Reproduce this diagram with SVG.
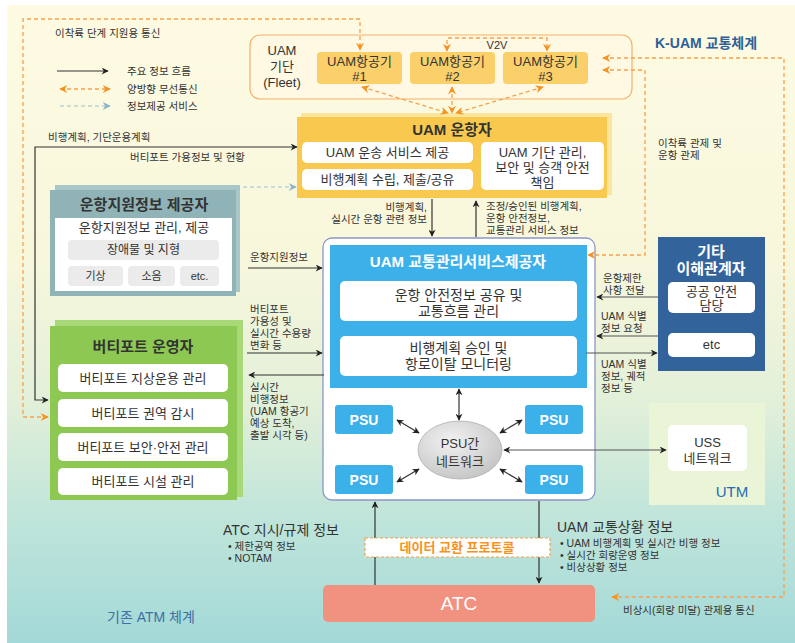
<svg xmlns="http://www.w3.org/2000/svg" width="795" height="643" viewBox="0 0 795 643">
<defs>
<linearGradient id="bg" x1="0" y1="0" x2="0" y2="1">
<stop offset="0" stop-color="#fefbe2"/>
<stop offset="0.4" stop-color="#f7f7dc"/>
<stop offset="0.62" stop-color="#e3f0d9"/>
<stop offset="0.8" stop-color="#c0e5da"/>
<stop offset="1" stop-color="#a3d9d8"/>
</linearGradient>
<radialGradient id="ell" cx="0.4" cy="0.35" r="0.7">
<stop offset="0" stop-color="#f2f2f2"/>
<stop offset="1" stop-color="#c4c4c4"/>
</radialGradient>
<marker id="ab" viewBox="0 0 10 10" refX="9" refY="5" markerWidth="9" markerHeight="7" orient="auto-start-reverse" markerUnits="userSpaceOnUse"><path d="M0,0 L10,5 L0,10 L3,5 z" fill="#222"/></marker>
<marker id="ao" viewBox="0 0 10 10" refX="9" refY="5" markerWidth="10" markerHeight="8" orient="auto-start-reverse" markerUnits="userSpaceOnUse"><path d="M0,0 L10,5 L0,10 L3,5 z" fill="#f7921e"/></marker>
<marker id="ag" viewBox="0 0 10 10" refX="9" refY="5" markerWidth="10" markerHeight="8" orient="auto-start-reverse" markerUnits="userSpaceOnUse"><path d="M0,0 L10,5 L0,10 L3,5 z" fill="#8db4c8"/></marker>
<style>
text{font-family:"Liberation Sans","Noto Sans CJK KR",sans-serif;fill:#333}
.s{font-size:10.5px}
.m{font-size:13px}
.t{font-size:15px;font-weight:bold}
.c{text-anchor:middle}
.w{fill:#fff}
.blk{fill:none;stroke:#333;stroke-width:1.2;marker-end:url(#ab)}
.bi{fill:none;stroke:#333;stroke-width:1.2;marker-start:url(#ab);marker-end:url(#ab)}
.or{fill:none;stroke:#f7a04a;stroke-width:1.3;stroke-dasharray:4 3;marker-start:url(#ao);marker-end:url(#ao)}
.gb{fill:none;stroke:#9dbdd0;stroke-width:1.2;stroke-dasharray:4 3;marker-end:url(#ag)}
.wb{fill:#fff;rx:5}
.chip{fill:#ebebeb}
</style>
</defs>
<rect x="0" y="0" width="795" height="643" fill="#fff"/>
<rect x="7" y="5" width="788" height="638" fill="url(#bg)"/>

<g id="legend">
<line x1="57" y1="71" x2="108" y2="71" class="blk"/>
<text x="127" y="75" class="s">주요 정보 흐름</text>
<line x1="60" y1="89" x2="110" y2="89" class="or"/>
<text x="127" y="93" class="s">양방향 무선통신</text>
<line x1="60" y1="106" x2="110" y2="106" class="gb"/>
<text x="127" y="110" class="s">정보제공 서비스</text>
</g>

<g id="titles">
<text x="655" y="48" style="font-size:14px;fill:#2e5f99;font-weight:bold">K-UAM 교통체계</text>
<text x="107" y="622" style="font-size:14px;fill:#3e6fa5">기존 ATM 체계</text>
</g>

<g id="fleet">
<rect x="250" y="35" width="382" height="64" rx="10" fill="#fff8e2" stroke="#f6b06a" stroke-width="1.2"/>
<text x="282" y="55" class="m c" fill="#555">UAM</text>
<text x="282" y="71" class="m c">기단</text>
<text x="282" y="87" class="m c">(Fleet)</text>
</g>
<g id="aircraft1">
<rect x="317" y="52" width="85" height="32" rx="4" fill="#fbd06a"/>
<text x="359.5" y="66" class="m c">UAM항공기</text>
<text x="359.5" y="81" class="m c">#1</text>
</g>
<g id="aircraft2">
<rect x="410" y="52" width="85" height="32" rx="4" fill="#fbd06a"/>
<text x="452.5" y="66" class="m c">UAM항공기</text>
<text x="452.5" y="81" class="m c">#2</text>
</g>
<g id="aircraft3">
<rect x="503" y="52" width="85" height="32" rx="4" fill="#fbd06a"/>
<text x="545.5" y="66" class="m c">UAM항공기</text>
<text x="545.5" y="81" class="m c">#3</text>
</g>

<g id="operator">
<rect x="301" y="113" width="311" height="82" fill="#fde59e"/>
<rect x="297" y="117" width="310" height="81" fill="#f8c94e"/>
<text x="452" y="135" class="t c">UAM 운항자</text>
<rect x="302" y="142" width="171" height="21" class="wb"/>
<text x="387.5" y="157" class="m c">UAM 운송 서비스 제공</text>
<rect x="302" y="169" width="171" height="21" class="wb"/>
<text x="387.5" y="184" class="m c">비행계획 수립, 제출/공유</text>
<rect x="481" y="142" width="123" height="48" class="wb"/>
<text x="542.5" y="157" class="m c">UAM 기단 관리,</text>
<text x="542.5" y="172" class="m c">보안 및 승객 안전</text>
<text x="542.5" y="187" class="m c">책임</text>
</g>

<g id="provider">
<rect x="55" y="185" width="185" height="107" fill="#a9c6c8"/>
<rect x="50" y="190" width="186" height="106" fill="#8fb3b7"/>
<text x="144" y="210" class="t c">운항지원정보 제공자</text>
<rect x="55" y="218" width="177" height="73" fill="#fff"/>
<text x="144" y="232" class="m c">운항지원정보 관리, 제공</text>
<rect x="68" y="240" width="151" height="20" rx="4" class="chip"/>
<text x="143.5" y="254" class="m c" style="font-size:12px">장애물 및 지형</text>
<rect x="68" y="266" width="55" height="20" rx="4" class="chip"/>
<text x="95.5" y="280" class="c" style="font-size:11px">기상</text>
<rect x="128" y="266" width="47" height="20" rx="4" class="chip"/>
<text x="151.5" y="280" class="c" style="font-size:11px">소음</text>
<rect x="180" y="266" width="39" height="20" rx="4" class="chip"/>
<text x="199.5" y="280" class="c" style="font-size:11px">etc.</text>
</g>

<g id="vertiport">
<rect x="55" y="320" width="188" height="177" fill="#a8d877"/>
<rect x="50" y="326" width="187" height="174" fill="#8dc852"/>
<text x="143" y="352" class="t c">버티포트 운영자</text>
<rect x="58" y="364" width="170" height="28" rx="5" fill="#fff"/>
<text x="143" y="383" class="m c">버티포트 지상운용 관리</text>
<rect x="58" y="399" width="170" height="28" rx="5" fill="#fff"/>
<text x="143" y="418" class="m c">버티포트 권역 감시</text>
<rect x="58" y="433" width="170" height="28" rx="5" fill="#fff"/>
<text x="143" y="452" class="m c">버티포트 보안·안전 관리</text>
<rect x="58" y="468" width="170" height="27" rx="5" fill="#fff"/>
<text x="143" y="486" class="m c">버티포트 시설 관리</text>
</g>

<g id="traffic">
<rect x="323" y="238" width="272" height="262" rx="9" fill="#fff" stroke="#8c96c8" stroke-width="1.3"/>
<rect x="330" y="245" width="257" height="143" fill="#3cb0e8"/>
<text x="458" y="267" class="t c w">UAM 교통관리서비스제공자</text>
<rect x="340" y="281" width="237" height="40" rx="5" fill="#fff"/>
<text x="458.5" y="300" class="c" style="font-size:14px">운항 안전정보 공유 및</text>
<text x="458.5" y="316" class="c" style="font-size:14px">교통흐름 관리</text>
<rect x="340" y="336" width="237" height="40" rx="5" fill="#fff"/>
<text x="458.5" y="353" class="c" style="font-size:14px">비행계획 승인 및</text>
<text x="458.5" y="369" class="c" style="font-size:14px">항로이탈 모니터링</text>
</g>
<g id="psu1"><rect x="335" y="405" width="58" height="29" rx="3" fill="#3cb0e8"/><text x="364" y="425" class="c w" style="font-size:14px;font-weight:bold">PSU</text></g>
<g id="psu2"><rect x="525" y="405" width="58" height="29" rx="3" fill="#3cb0e8"/><text x="554" y="425" class="c w" style="font-size:14px;font-weight:bold">PSU</text></g>
<g id="psu3"><rect x="335" y="465" width="58" height="29" rx="3" fill="#3cb0e8"/><text x="364" y="485" class="c w" style="font-size:14px;font-weight:bold">PSU</text></g>
<g id="psu4"><rect x="525" y="465" width="58" height="29" rx="3" fill="#3cb0e8"/><text x="554" y="485" class="c w" style="font-size:14px;font-weight:bold">PSU</text></g>
<g id="psunet">
<ellipse cx="460" cy="450" rx="42" ry="29" fill="url(#ell)" stroke="#b0b0b0" stroke-width="0.8"/>
<text x="460" y="448" class="m c">PSU간</text>
<text x="460" y="466" class="m c">네트워크</text>
</g>

<g id="stakeholder">
<rect x="658" y="237" width="107" height="134" fill="#33639b"/>
<text x="711" y="257" class="t c w">기타</text>
<text x="711" y="274" class="t c w">이해관계자</text>
<rect x="668" y="282" width="87" height="31" rx="5" fill="#fff"/>
<text x="711.5" y="296" class="m c">공공 안전</text>
<text x="711.5" y="310" class="m c">담당</text>
<rect x="668" y="333" width="87" height="24" rx="5" fill="#fff"/>
<text x="711.5" y="349" class="m c">etc</text>
</g>

<g id="utm">
<rect x="649" y="403" width="116" height="102" fill="#e9f5d6"/>
<rect x="668" y="425" width="79" height="46" rx="5" fill="#fff"/>
<text x="707.5" y="447" class="m c" fill="#444">USS</text>
<text x="707.5" y="463" class="m c">네트워크</text>
<text x="732" y="497" class="c" style="font-size:15px;fill:#2a6bb5">UTM</text>
</g>

<g id="atc">
<rect x="323" y="585" width="272" height="37" rx="5" fill="#f0927f"/>
<text x="459" y="610" class="c w" style="font-size:19px">ATC</text>
</g>

<g id="connectors">
<path d="M48,417 H23 V19 H360 V50" class="or"/>
<path d="M603,58 H784 V597 H612" class="or"/>
<path d="M603,70 H645 V255 H588" class="or"/>
<path d="M447,51 V38 H547 V51" class="or"/>
<path d="M362,87 L448,113" class="or"/>
<path d="M452,87 V113" class="or"/>
<path d="M543,87 L456,113" class="or"/>
<path d="M297,147 H35 V400 H48" class="bi"/>
<path d="M243,187 H296" class="gb"/>
<path d="M248,268 H322" class="blk"/>
<path d="M247,353 H322" class="blk"/>
<path d="M324,375 H249" class="blk"/>
<path d="M432,199 V236" class="blk"/>
<path d="M476,237 V201" class="blk"/>
<path d="M658,297 H597" class="blk" style="stroke:#555"/>
<path d="M658,336 H597" class="blk" style="stroke:#555"/>
<path d="M586,353 H657" class="blk" style="stroke:#555"/>
<path d="M459,389 V420" class="bi"/>
<path d="M397,420 L419,433" class="bi"/>
<path d="M522,420 L500,433" class="bi"/>
<path d="M397,482 L419,469" class="bi"/>
<path d="M522,482 L500,469" class="bi"/>
<path d="M504,450 H666" class="bi" style="stroke:#555"/>
<path d="M375,585 V502" class="blk"/>
<path d="M539,501 V583" class="blk"/>
</g>

<g id="protocol">
<rect x="365" y="538" width="185" height="19" fill="#fff" stroke="#f7a04a" stroke-width="1.2" stroke-dasharray="3 2"/>
<text x="457" y="552" class="c" style="font-size:13px;font-weight:bold;fill:#f7921e">데이터 교환 프로토콜</text>
</g>

<g id="labels">
<text x="55" y="37" class="s">이착륙 단계 지원용 통신</text>
<text x="48" y="141" class="s">비행계획, 기단운용계획</text>
<text x="130" y="161" class="s">버티포트 가용정보 및 현황</text>
<text x="497" y="49" class="c" style="font-size:11px">V2V</text>
<text x="658" y="147" class="s">이착륙 관제 및</text>
<text x="658" y="159" class="s">운항 관제</text>
<text x="427" y="211" class="s" text-anchor="end">비행계획,</text>
<text x="427" y="223" class="s" text-anchor="end">실시간 운항 관련 정보</text>
<text x="486" y="210" class="s">조정/승인된 비행계획,</text>
<text x="486" y="222" class="s">운항 안전정보,</text>
<text x="486" y="234" class="s">교통관리 서비스 정보</text>
<text x="250" y="261" class="s">운항지원정보</text>
<text x="250" y="313" class="s">버티포트</text>
<text x="250" y="325" class="s">가용성 및</text>
<text x="250" y="337" class="s">실시간 수용량</text>
<text x="250" y="349" class="s">변화 등</text>
<text x="250" y="391" class="s">실시간</text>
<text x="250" y="403" class="s">비행정보</text>
<text x="250" y="415" class="s">(UAM 항공기</text>
<text x="250" y="427" class="s">예상 도착,</text>
<text x="250" y="439" class="s">출발 시각 등)</text>
<text x="603" y="282" class="s">운항제한</text>
<text x="603" y="294" class="s">사항 전달</text>
<text x="601" y="320" class="s">UAM 식별</text>
<text x="601" y="332" class="s">정보 요청</text>
<text x="601" y="368" class="s">UAM 식별</text>
<text x="601" y="380" class="s">정보, 궤적</text>
<text x="601" y="392" class="s">정보 등</text>
<text x="223" y="535" style="font-size:14px">ATC 지시/규제 정보</text>
<text x="228" y="550" class="s">•  제한공역 정보</text>
<text x="228" y="562" class="s">•  NOTAM</text>
<text x="557" y="532" style="font-size:14px">UAM 교통상황 정보</text>
<text x="560" y="547" class="s">•  UAM 비행계획 및 실시간 비행 정보</text>
<text x="560" y="559" class="s">•  실시간 회랑운영 정보</text>
<text x="560" y="571" class="s">•  비상상황 정보</text>
<text x="623" y="614" class="s">비상시(회랑 미달) 관제용 통신</text>
</g>
</svg>
